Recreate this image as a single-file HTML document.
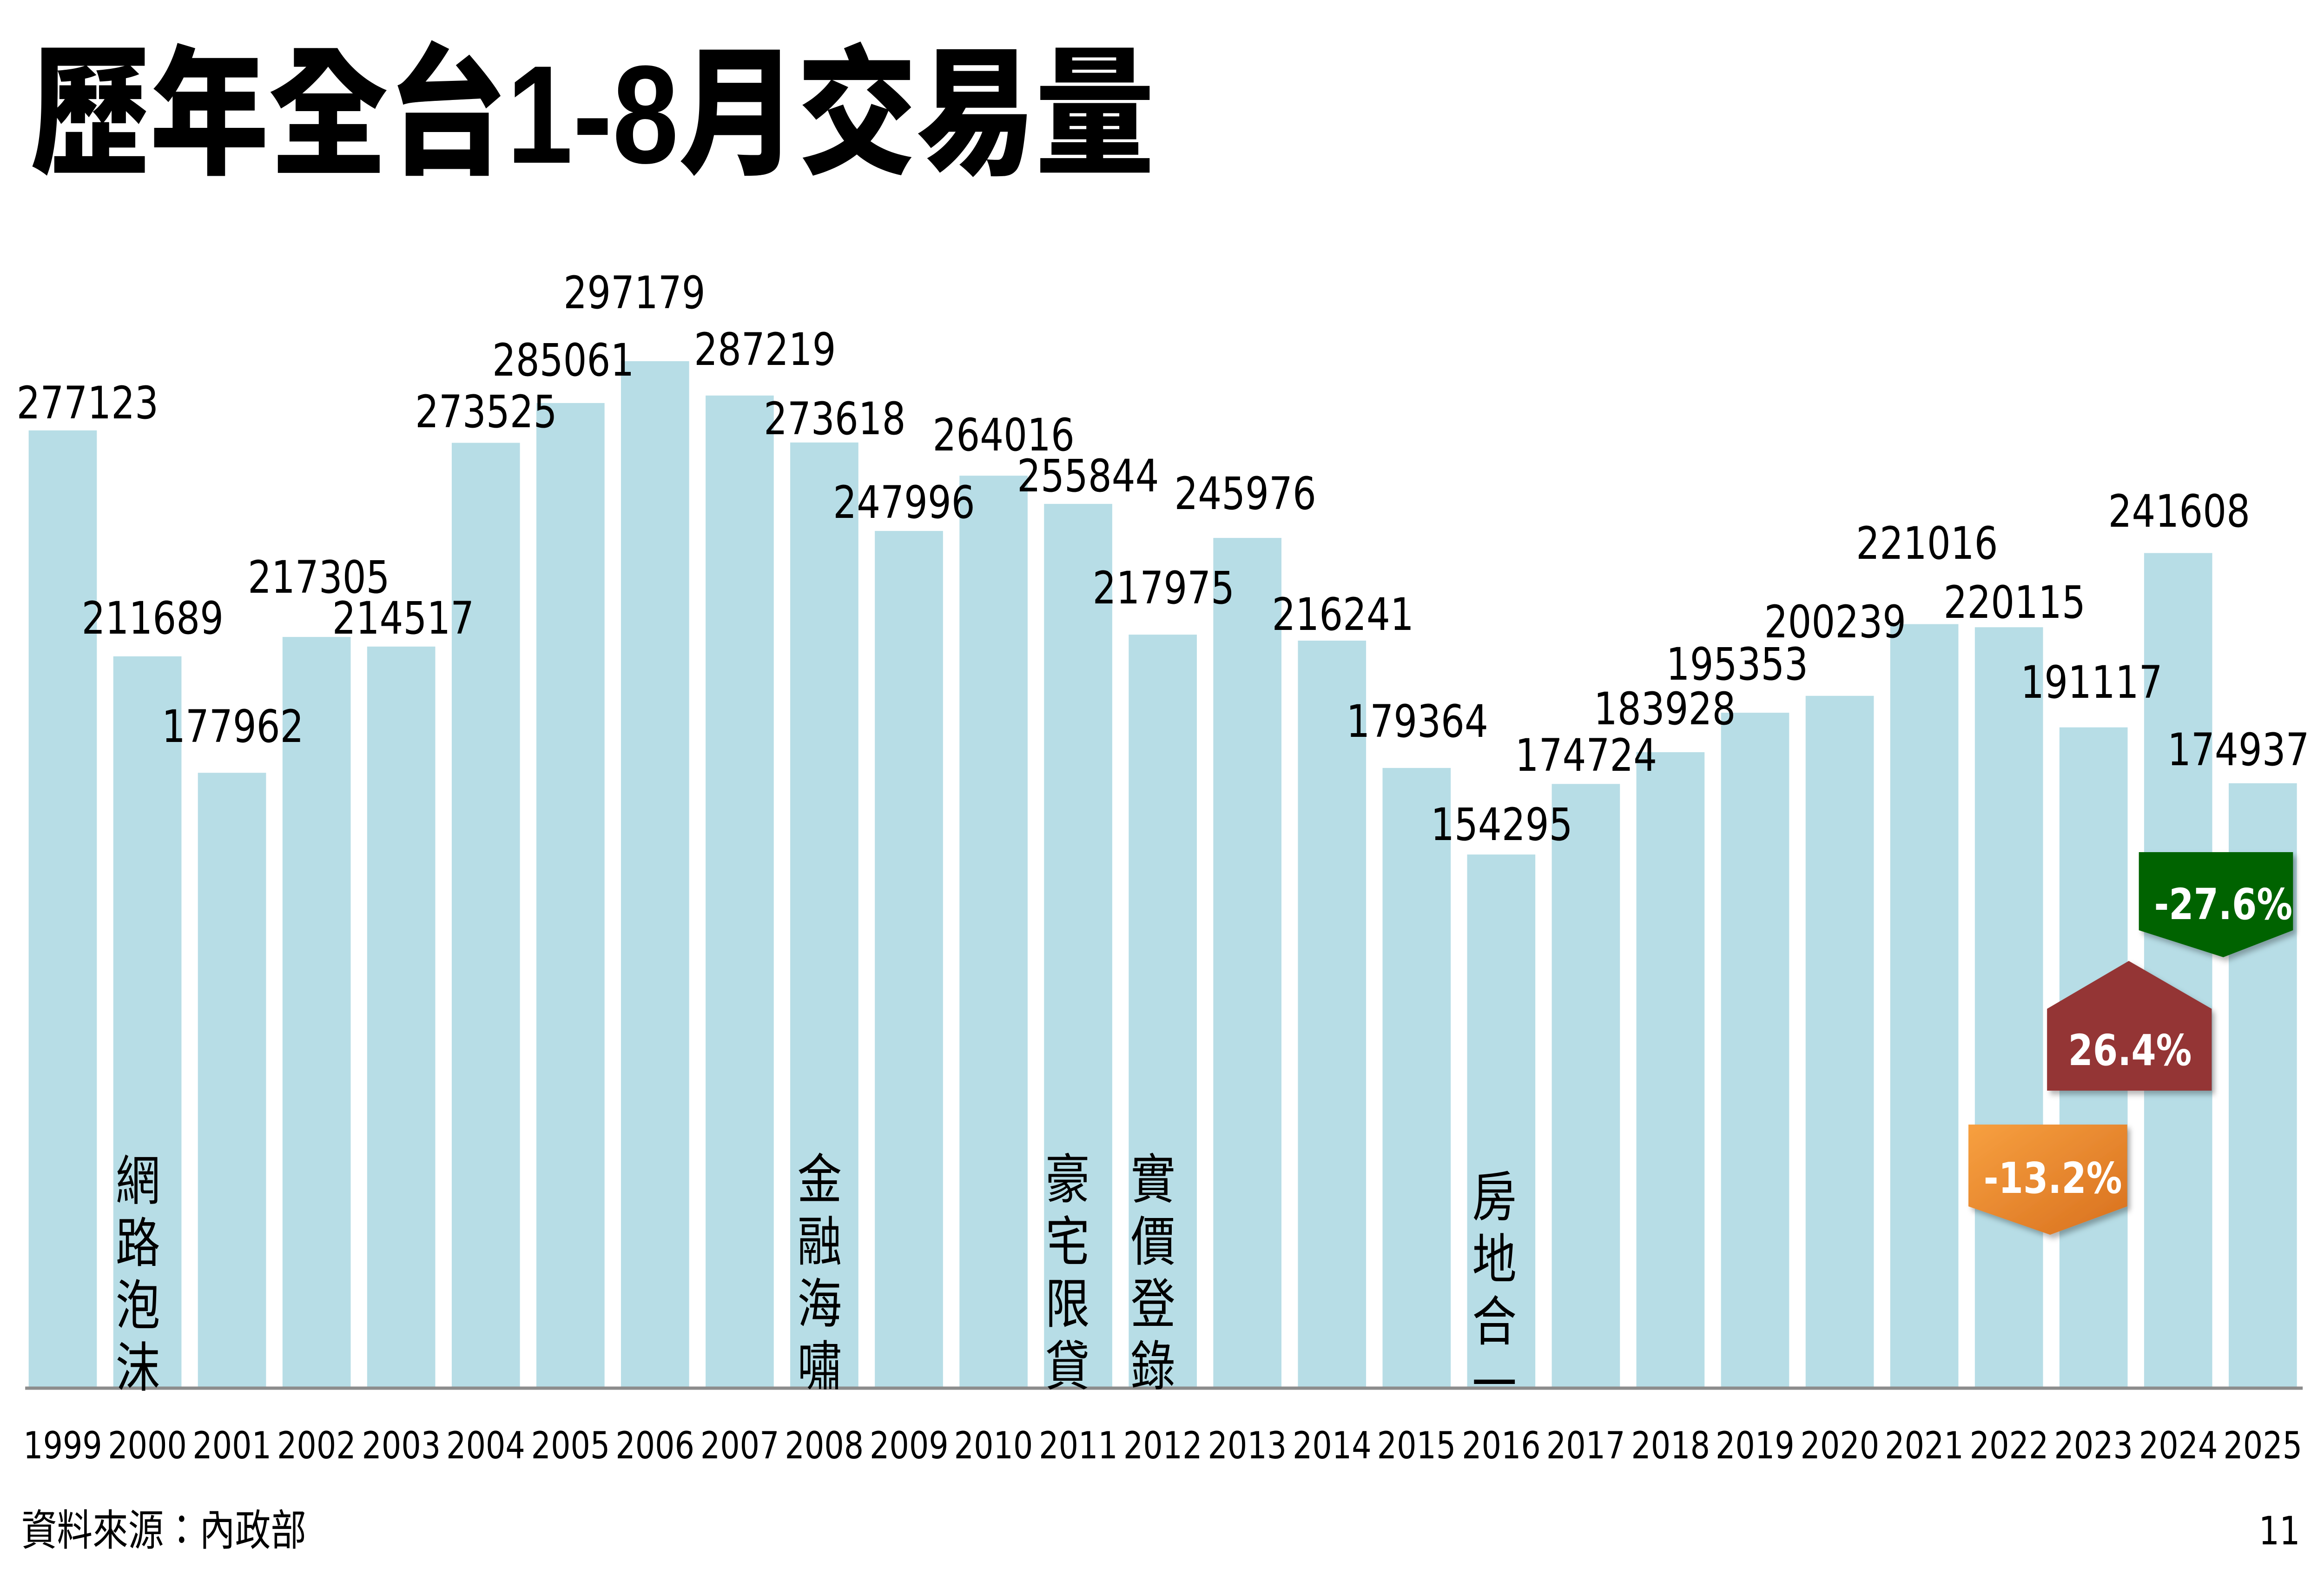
<!DOCTYPE html>
<html><head><meta charset="utf-8"><style>
html,body{margin:0;padding:0;background:#fff;overflow:hidden;}
svg{display:block;width:100vw;height:100vh;}
</style></head><body>
<svg viewBox="0 0 6000 3375" preserveAspectRatio="none" xmlns="http://www.w3.org/2000/svg">
<defs>
<linearGradient id="og" x1="0" y1="0" x2="1" y2="1"><stop offset="0" stop-color="#f7a040"/><stop offset="1" stop-color="#d8701e"/></linearGradient>
<filter id="sh" x="-5%" y="-5%" width="115%" height="120%"><feDropShadow dx="8" dy="8" stdDeviation="6" flood-color="#000" flood-opacity="0.3"/></filter>
</defs>
<text x="80" y="350" font-family="'Liberation Sans','Noto Sans CJK TC',sans-serif" font-weight="900" font-size="300" textLength="2900" lengthAdjust="spacingAndGlyphs">歷年全台1-8月交易量</text>
<g fill="#b7dde6">
<rect x="74" y="925.8" width="176" height="2058.2"/>
<rect x="292.5" y="1411.8" width="176" height="1572.2"/>
<rect x="510.9" y="1662.3" width="176" height="1321.7"/>
<rect x="729.4" y="1370.1" width="176" height="1613.9"/>
<rect x="947.8" y="1390.8" width="176" height="1593.2"/>
<rect x="1166.3" y="952.5" width="176" height="2031.5"/>
<rect x="1384.8" y="866.9" width="176" height="2117.1"/>
<rect x="1603.2" y="776.9" width="176" height="2207.1"/>
<rect x="1821.7" y="850.8" width="176" height="2133.2"/>
<rect x="2040.1" y="951.8" width="176" height="2032.2"/>
<rect x="2258.6" y="1142.1" width="176" height="1841.9"/>
<rect x="2477.1" y="1023.2" width="176" height="1960.8"/>
<rect x="2695.5" y="1083.9" width="176" height="1900.1"/>
<rect x="2914" y="1365.1" width="176" height="1618.9"/>
<rect x="3132.4" y="1157.1" width="176" height="1826.9"/>
<rect x="3350.9" y="1378" width="176" height="1606"/>
<rect x="3569.4" y="1651.9" width="176" height="1332.1"/>
<rect x="3787.8" y="1838.1" width="176" height="1145.9"/>
<rect x="4006.3" y="1686.3" width="176" height="1297.7"/>
<rect x="4224.7" y="1618" width="176" height="1366"/>
<rect x="4443.2" y="1533.1" width="176" height="1450.9"/>
<rect x="4661.7" y="1496.8" width="176" height="1487.2"/>
<rect x="4880.1" y="1342.5" width="176" height="1641.5"/>
<rect x="5098.6" y="1349.2" width="176" height="1634.8"/>
<rect x="5317" y="1564.6" width="176" height="1419.4"/>
<rect x="5535.5" y="1189.6" width="176" height="1794.4"/>
<rect x="5754" y="1684.8" width="176" height="1299.2"/>
</g>
<line x1="65" y1="2986" x2="5945" y2="2986" stroke="#8c8c8c" stroke-width="7"/>
<g font-family="'DejaVu Sans',sans-serif" font-size="96" text-anchor="middle" fill="#000">
<text x="226" y="900">277123</text>
<text x="394" y="1363">211689</text>
<text x="601" y="1596">177962</text>
<text x="823" y="1275">217305</text>
<text x="1041" y="1363">214517</text>
<text x="1255" y="919">273525</text>
<text x="1454" y="808">285061</text>
<text x="1638" y="663">297179</text>
<text x="1975" y="785">287219</text>
<text x="2155" y="934">273618</text>
<text x="2334" y="1114">247996</text>
<text x="2591" y="969">264016</text>
<text x="2809" y="1057">255844</text>
<text x="3004" y="1298">217975</text>
<text x="3215" y="1095">245976</text>
<text x="3467" y="1355">216241</text>
<text x="3659" y="1585">179364</text>
<text x="3877" y="1807">154295</text>
<text x="4095" y="1658">174724</text>
<text x="4298" y="1558">183928</text>
<text x="4485" y="1462">195353</text>
<text x="4738" y="1371">200239</text>
<text x="4975" y="1202">221016</text>
<text x="5201" y="1329">220115</text>
<text x="5400" y="1501">191117</text>
<text x="5626" y="1133">241608</text>
<text x="5779" y="1646">174937</text>
</g>
<g font-family="'DejaVu Sans',sans-serif" font-size="80" text-anchor="middle" fill="#000">
<text x="162" y="3137">1999</text><text x="380.5" y="3137">2000</text><text x="599" y="3137">2001</text><text x="817" y="3137">2002</text><text x="1036" y="3137">2003</text><text x="1254" y="3137">2004</text><text x="1473" y="3137">2005</text><text x="1691" y="3137">2006</text><text x="1910" y="3137">2007</text><text x="2128" y="3137">2008</text><text x="2347" y="3137">2009</text><text x="2565" y="3137">2010</text><text x="2784" y="3137">2011</text><text x="3002" y="3137">2012</text><text x="3220" y="3137">2013</text><text x="3439" y="3137">2014</text><text x="3657" y="3137">2015</text><text x="3876" y="3137">2016</text><text x="4094" y="3137">2017</text><text x="4313" y="3137">2018</text><text x="4531" y="3137">2019</text><text x="4750" y="3137">2020</text><text x="4968" y="3137">2021</text><text x="5187" y="3137">2022</text><text x="5405" y="3137">2023</text><text x="5624" y="3137">2024</text><text x="5842" y="3137">2025</text>
</g>
<g font-family="'Liberation Sans','Noto Sans CJK TC',sans-serif" font-size="115" text-anchor="middle" fill="#000">
<text x="356" y="2580">網</text><text x="356" y="2714">路</text><text x="356" y="2848">泡</text><text x="356" y="2982">沫</text>
<text x="2116" y="2577">金</text><text x="2116" y="2711">融</text><text x="2116" y="2845">海</text><text x="2116" y="2979">嘯</text>
<text x="2756" y="2577">豪</text><text x="2756" y="2711">宅</text><text x="2756" y="2845">限</text><text x="2756" y="2979">貸</text>
<text x="2977" y="2577">實</text><text x="2977" y="2711">價</text><text x="2977" y="2845">登</text><text x="2977" y="2979">錄</text>
<text x="3858" y="2615">房</text><text x="3858" y="2749">地</text><text x="3858" y="2883">合</text><text x="3858" y="3017">一</text>
</g>
<g filter="url(#sh)">
<polygon points="5082,2419 5492,2419 5492,2595 5293,2656 5082,2595" fill="url(#og)"/>
<polygon points="5285,2170 5496,2067 5710,2170 5710,2346 5285,2346" fill="#943634"/>
<polygon points="5522,1833 5920,1833 5920,2001 5740,2059 5522,2001" fill="#006400"/>
</g>
<g font-family="'DejaVu Sans',sans-serif" font-weight="bold" font-size="92" fill="#fff" text-anchor="middle">
<text x="5300" y="2566">-13.2%</text>
<text x="5499" y="2291">26.4%</text>
<text x="5740" y="1977">-27.6%</text>
</g>
<text x="55" y="3324" font-family="'Liberation Sans','Noto Sans CJK TC',sans-serif" font-size="92">資料來源：內政部</text>
<text x="5885" y="3322" font-family="'DejaVu Sans',sans-serif" font-size="84" text-anchor="middle">11</text>
</svg>
</body></html>
